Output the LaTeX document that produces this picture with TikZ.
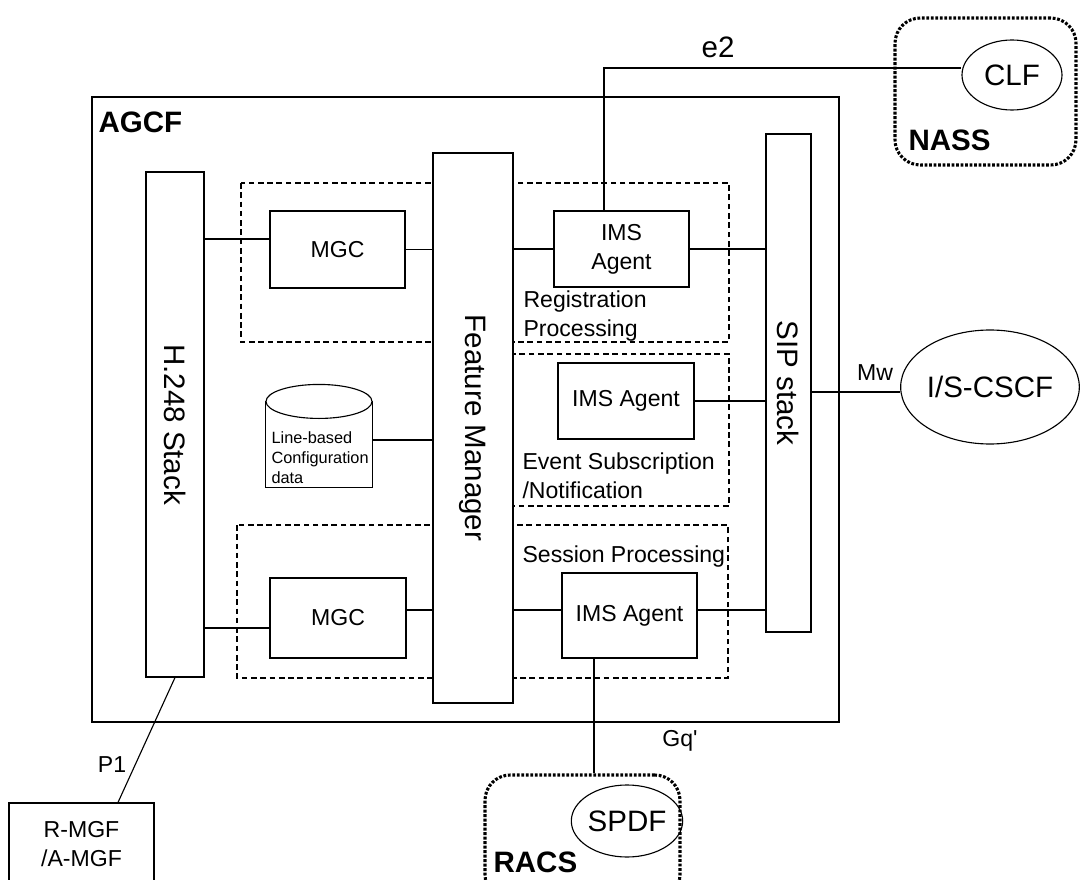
\documentclass[tikz,border=0pt]{standalone}
\usepackage{fontspec}
\setmainfont{Liberation Sans}
\usetikzlibrary{shapes.geometric}
\newcommand{\pxu}{0.025cm}
\tikzset{
  blk/.style={draw, fill=white, inner sep=0pt},
  grp/.style={draw, line width=1.3pt, dash pattern=on 4pt off 2.6pt},
  dom/.style={draw, line width=2.2pt, dash pattern=on 2pt off 1.2pt, rounded corners=18pt, inner sep=0pt},
  oval/.style={draw, ellipse, inner sep=0pt},
  lbl/.style={inner sep=0pt, font=\fontsize{16.4}{20.5}\selectfont},
  big/.style={inner sep=0pt, font=\fontsize{21}{25}\selectfont},
  bigb/.style={inner sep=0pt, font=\fontsize{21}{25}\selectfont\bfseries},
}
\begin{document}
\begin{tikzpicture}[x=\pxu, y=-\pxu, line width=0.8pt]
  \useasboundingbox (0,0) rectangle (1080,880);
  \clip (0,0) rectangle (1080,880);
  % AGCF
  \draw (92,97) rectangle (839,722);
  \node[bigb, anchor=west] (agcf) at (98,122) {AGCF};
  % groups
  \draw[grp] (241,183) rectangle (729,342);
  \draw[grp] (513,354) rectangle (729,506);
  \draw[grp] (237,525) rectangle (728,678);
  % stacks
  \node[blk, big, minimum width=58*\pxu, minimum height=505*\pxu] (h248) at (175,424.5) {\rotatebox{-90}{H.248 Stack}};
  \node[blk, big, minimum width=80*\pxu, minimum height=550*\pxu] (fm) at (473,428) {\rotatebox{-90}{Feature Manager}};
  \node[blk, big, minimum width=45*\pxu, minimum height=498*\pxu] (sip) at (788.5,383) {\rotatebox{-90}{SIP stack}};
  % boxes
  \node[blk, lbl, minimum width=135*\pxu, minimum height=77*\pxu] (mgcA) at (337.5,249.5) {MGC};
  \node[blk, lbl, align=center, minimum width=135*\pxu, minimum height=76*\pxu] (imsA) at (621.5,249) {IMS\\Agent};
  \node[blk, lbl, minimum width=136*\pxu, minimum height=76*\pxu] (imsB) at (626,401) {IMS Agent};
  \node[blk, lbl, minimum width=136*\pxu, minimum height=80*\pxu] (mgcB) at (338,618) {MGC};
  \node[blk, lbl, minimum width=135*\pxu, minimum height=85*\pxu] (imsC) at (629.5,615.5) {IMS Agent};
  \node[lbl, anchor=north west, align=left] (reg) at (523,290) {Registration\\Processing};
  \node[lbl, anchor=north west, align=left] (evt) at (522,452) {Event Subscription\\/Notification};
  \node[lbl, anchor=north west] (ses) at (522,545) {Session Processing};
  % data store
  \node[minimum width=106*\pxu, minimum height=85*\pxu, inner sep=0pt] (db) at (319,444.5) {};
  \draw (db.north west) -- (db.south west) -- (db.south east) -- (db.north east);
  \draw (db.north) ellipse [x radius=1.325cm, y radius=0.425cm];
  \node[inner sep=0pt, anchor=north west, align=left, font=\fontsize{11.6}{14.2}\selectfont] (dbtxt) at (271,431) {Line-based\\Configuration\\data};
  % outside
  \node[oval, big, minimum width=100*\pxu, minimum height=70*\pxu] (clf) at (1012,75) {CLF};
  \node[dom, minimum width=181*\pxu, minimum height=147*\pxu] (nassbox) at (985.5,91.5) {};
  \node[bigb, anchor=west] (nass) at (908,140) {NASS};
  \node[oval, big, minimum width=154*\pxu, minimum height=114*\pxu] (iscscf) at (990,387) {I/S-CSCF};
  \node[dom, minimum width=195*\pxu, minimum height=125*\pxu] (racsbox) at (582.5,837.5) {};
  \node[oval, big, minimum width=100*\pxu, minimum height=72*\pxu] (spdf) at (627,821) {SPDF};
  \node[bigb, anchor=west] (racs) at (493,862) {RACS};
  \node[blk, lbl, align=center, minimum width=145*\pxu, minimum height=82*\pxu] (rmgf) at (81.5,844) {R-MGF\\/A-MGF};
  % connectors
  \coordinate (c1) at ([yshift=10.5*\pxu]mgcA.west);
  \draw (h248.east |- c1) -- (c1);
  \draw (mgcA.east) -- (fm.west |- mgcA.east);
  \draw (fm.east |- imsA.west) -- (imsA.west);
  \draw (imsA.east) -- (sip.west |- imsA.east);
  \coordinate (e2top) at (604,68);
  \draw (imsA.north -| e2top) -- (e2top) -- (e2top -| clf.west);
  \coordinate (dbR) at ([yshift=4.5*\pxu]db.east);
  \draw (dbR) -- (dbR -| fm.west);
  \draw (imsB.east) -- (sip.west |- imsB.east);
  \coordinate (c2) at ([yshift=-10*\pxu]mgcB.west);
  \draw (h248.east |- c2) -- (c2);
  \coordinate (c3) at ([yshift=8*\pxu]mgcB.east);
  \draw (c3) -- (c3 -| fm.west);
  \coordinate (c4) at ([yshift=5.5*\pxu]imsC.west);
  \draw (fm.east |- c4) -- (c4);
  \coordinate (c5) at ([yshift=5.5*\pxu]imsC.east);
  \draw (c5) -- (c5 -| sip.west);
  \coordinate (gq) at ([xshift=-35.5*\pxu]imsC.south);
  \draw (gq) -- (gq |- racsbox.north);
  \coordinate (mw) at ([yshift=-9*\pxu]sip.east);
  \draw (mw) -- (mw -| iscscf.west);
  \draw (h248.south) -- ([xshift=36.5*\pxu]rmgf.north);
  % labels
  \node[big] (e2) at (718,47) {e2};
  \node[lbl] (mwlbl) at (875,373) {Mw};
  \node[lbl] (gqlbl) at (680,741) {Gq\textquotesingle};
  \node[lbl] (p1) at (112,765) {P1};
\end{tikzpicture}
\end{document}
